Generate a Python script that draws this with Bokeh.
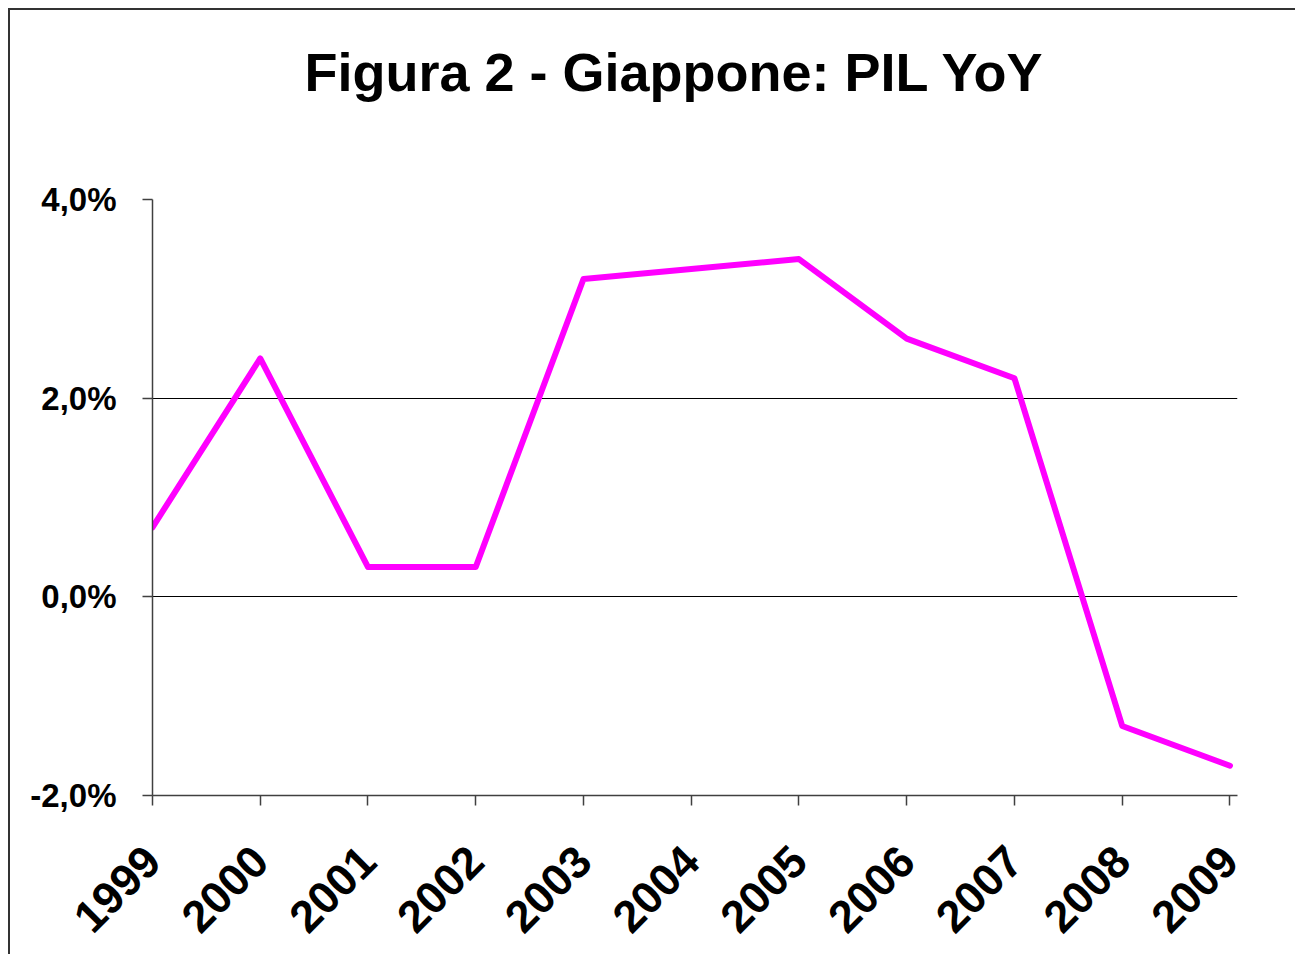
from math import pi
from bokeh.plotting import figure
from bokeh.models import Range1d, FixedTicker, Title
from bokeh.embed import file_html
from bokeh.resources import INLINE

# ---- data ----
years = ["1999", "2000", "2001", "2002", "2003", "2004", "2005", "2006", "2007", "2008", "2009"]
gdp_yoy = [0.7, 2.4, 0.3, 0.3, 3.2, 3.3, 3.4, 2.6, 2.2, -1.3, -1.7]
y_ticks = [-2, 0, 2, 4]
y_tick_labels = ["-2,0%", "0,0%", "2,0%", "4,0%"]
grid_values = [0, 2]
title_text = "Figura 2 - Giappone: PIL YoY"

FONT = "Liberation Sans"
xpos = list(range(len(years)))

p = figure(width=1287, height=946,
           x_range=Range1d(0, 10.07), y_range=Range1d(-2, 4),
           output_backend="svg", toolbar_location=None,
           min_border_left=142, min_border_right=60,
           min_border_top=189, min_border_bottom=161)
p.styles = {"border-left": "2px solid #333333", "border-top": "2px solid #333333",
            "margin-left": "8px", "margin-top": "8px"}
p.outline_line_color = None
p.background_fill_color = "white"
p.border_fill_color = "white"

# real title (outermost) and an empty spacer title between it and the frame
p.title = Title(text=title_text, text_font=FONT, text_font_size="54px",
                text_font_style="bold", text_color="black",
                align="left", offset=152, standoff=0)
p.add_layout(Title(text=" ", text_font_size="10px", standoff=85), "above")

p.line(xpos, gdp_yoy, line_color="#FF00FF", line_width=6,
       line_cap="round", line_join="round")

# x axis
p.xaxis.ticker = FixedTicker(ticks=xpos)
p.xaxis.major_label_overrides = {i: y for i, y in zip(xpos, years)}
p.xaxis.major_label_orientation = pi / 4
p.xaxis.major_label_text_font = FONT
p.xaxis.major_label_text_font_size = "45px"
p.xaxis.major_label_text_font_style = "bold"
p.xaxis.major_label_text_color = "black"
p.xaxis.major_tick_out = 10
p.xaxis.major_tick_in = 0
p.xaxis.minor_tick_line_color = None
p.xaxis.axis_line_color = "#404040"
p.xaxis.axis_line_width = 1.5
p.xaxis.major_tick_line_color = "#404040"
p.xaxis.major_tick_line_width = 1.5
p.xaxis.major_label_standoff = 48

# y axis
p.yaxis.ticker = FixedTicker(ticks=y_ticks)
p.yaxis.major_label_overrides = {v: s for v, s in zip(y_ticks, y_tick_labels)}
p.yaxis.major_label_text_font = FONT
p.yaxis.major_label_text_font_size = "33px"
p.yaxis.major_label_text_font_style = "bold"
p.yaxis.major_label_text_color = "black"
p.yaxis.major_tick_out = 10
p.yaxis.major_tick_in = 0
p.yaxis.minor_tick_line_color = None
p.yaxis.axis_line_color = "#404040"
p.yaxis.axis_line_width = 1.5
p.yaxis.major_tick_line_color = "#404040"
p.yaxis.major_tick_line_width = 1.5
p.yaxis.major_label_standoff = 26

# grid
p.xgrid.visible = False
p.ygrid.ticker = FixedTicker(ticks=grid_values)
p.ygrid.grid_line_color = "black"
p.ygrid.grid_line_width = 1

open("out.html", "w").write(file_html(p, INLINE))
